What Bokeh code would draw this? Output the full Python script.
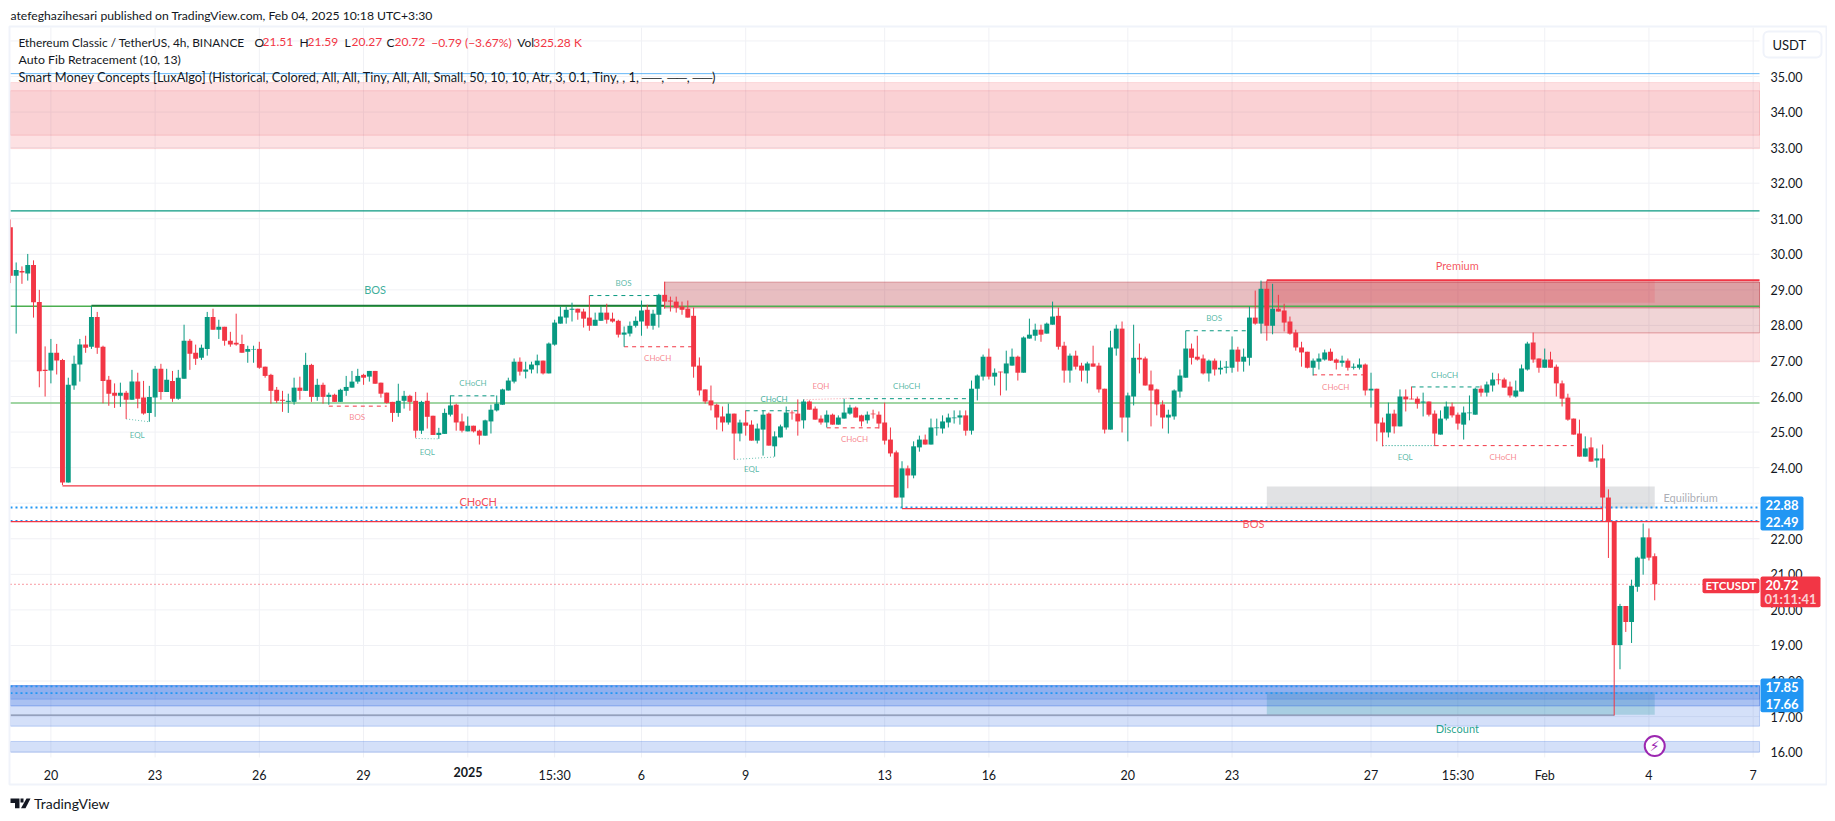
from bokeh.plotting import figure
from bokeh.models import Range1d, FixedTicker, Label, BoxAnnotation, PolyAnnotation, ColumnDataSource
from bokeh.core.properties import value
from bokeh.embed import file_html
from bokeh.resources import INLINE

FONT = "Lato"
UP = "#089981"
DOWN = "#f23645"
INK = "#131722"
BLUE = "#2962e0"

opens = [30.76,29.40,29.53,29.46,29.70,28.66,26.75,26.73,27.23,27.03,
 23.58,26.31,26.90,27.46,27.40,28.24,27.40,26.47,26.11,26.02,
 26.11,25.91,26.42,25.97,25.54,25.97,26.78,26.13,26.44,25.94,
 26.50,27.57,27.23,27.09,27.34,28.24,27.88,27.96,27.57,27.51,
 27.48,27.26,27.32,27.34,26.84,26.61,26.19,25.91,25.85,25.85,
 26.25,26.16,26.89,25.99,26.33,25.99,26.05,25.85,26.16,26.25,
 26.42,26.61,26.56,26.72,26.39,26.11,25.85,25.54,25.88,26.02,
 25.88,25.04,25.88,25.46,24.92,24.95,25.49,25.77,25.30,25.02,
 25.18,25.04,24.90,25.30,25.61,25.77,26.17,26.42,26.98,26.70,
 26.76,26.88,27.01,26.65,27.46,28.05,28.22,28.44,28.47,28.39,
 28.22,27.99,28.13,28.36,28.19,28.13,27.74,27.77,27.99,28.11,
 28.44,27.99,28.30,28.86,28.70,28.67,28.53,28.47,28.27,26.87,
 26.20,25.89,25.77,25.44,25.27,25.52,24.96,25.27,25.21,24.76,
 25.07,25.52,24.60,24.85,25.13,25.55,25.52,25.33,25.86,25.66,
 25.38,25.27,25.49,25.21,25.38,25.52,25.69,25.47,25.33,25.52,
 25.49,25.27,24.79,24.43,23.16,23.98,23.78,24.57,24.79,24.65,
 25.11,25.10,25.27,25.39,25.41,25.47,25.04,26.22,26.56,27.12,
 26.56,26.70,26.65,26.87,27.12,26.67,27.63,27.71,27.88,27.77,
 28.02,28.27,27.43,26.73,27.15,26.87,26.73,26.93,26.87,26.22,
 25.07,27.35,27.91,25.41,26.00,27.09,27.07,26.34,26.20,25.78,
 25.41,25.44,26.14,26.53,27.35,27.12,27.07,26.65,27.01,26.76,
 26.81,26.81,27.32,26.98,27.09,28.22,28.05,29.03,27.99,28.47,
 28.42,28.11,27.80,27.38,27.26,26.81,26.98,27.04,27.26,27.04,
 26.95,27.01,26.81,26.81,26.90,26.17,26.22,25.27,24.99,25.52,
 25.16,26.00,25.94,25.94,25.83,25.86,25.52,24.93,25.38,25.72,
 25.49,25.21,25.53,25.49,26.22,26.11,26.31,26.48,26.48,26.28,
 26.00,26.14,26.76,27.52,27.07,26.81,27.04,26.84,26.37,25.97,
 25.38,24.96,24.31,24.57,24.20,24.26,23.16,22.49,19.01,20.11,
 19.66,20.65,21.44,22.04,21.51]
highs = [30.98,29.77,29.66,30.01,29.83,29.00,27.41,27.62,27.48,27.06,
 26.53,27.15,27.62,27.71,28.55,28.38,27.43,26.58,26.37,26.39,
 26.16,26.75,26.67,26.44,26.30,26.86,26.92,26.78,26.72,26.75,
 28.02,27.62,27.46,27.46,28.38,28.47,28.16,27.96,27.82,28.33,
 27.74,27.43,27.43,27.54,26.84,26.64,26.27,26.16,26.08,26.53,
 26.56,27.23,26.92,26.50,26.39,26.11,26.08,26.22,26.58,26.72,
 26.78,26.64,26.72,26.72,26.39,26.11,25.85,26.36,26.16,26.05,
 26.13,25.88,26.11,25.46,25.12,25.66,26.03,25.80,25.52,25.44,
 25.18,25.07,25.35,25.77,26.03,26.22,26.53,27.07,27.10,26.98,
 26.98,27.18,27.01,27.52,28.16,28.53,28.53,28.64,28.47,28.47,
 28.84,28.36,28.53,28.61,28.36,28.16,27.97,28.11,28.25,28.70,
 28.58,28.44,28.89,29.23,28.81,28.81,28.67,28.70,28.50,27.10,
 26.20,26.31,25.80,25.72,25.80,25.52,25.35,25.61,25.33,25.24,
 25.61,25.55,25.02,25.21,25.72,25.61,25.92,25.92,25.89,25.72,
 25.47,25.61,25.52,25.47,25.94,25.77,25.72,25.49,25.58,25.63,
 25.58,25.83,25.13,24.48,24.18,24.06,24.74,24.90,24.93,25.38,
 25.38,25.47,25.52,25.61,25.61,25.61,26.45,26.62,27.18,27.35,
 26.79,26.70,27.29,27.35,27.15,27.69,28.19,28.05,28.02,28.08,
 28.67,28.50,27.54,27.21,27.29,26.95,26.98,27.43,26.95,26.22,
 27.85,28.02,28.11,26.11,28.02,27.49,27.12,26.73,26.22,25.89,
 25.63,26.20,26.76,27.85,27.49,27.71,27.18,27.04,27.07,27.01,
 27.00,27.69,27.40,27.35,28.53,28.98,29.26,29.26,29.17,28.86,
 28.61,28.25,27.88,27.54,27.26,27.07,27.21,27.32,27.35,27.07,
 27.15,27.07,26.93,27.07,26.93,26.67,26.22,25.41,25.83,25.63,
 26.20,26.20,26.28,26.00,26.11,25.86,25.61,25.61,25.86,25.83,
 25.55,25.72,26.03,26.25,26.31,26.42,26.67,26.65,26.53,26.42,
 26.45,26.90,27.54,27.80,27.07,27.35,27.26,26.90,26.45,26.08,
 25.38,25.35,24.88,24.85,24.54,24.65,23.39,22.49,20.17,20.11,
 20.85,21.50,22.43,22.29,21.59]
lows = [29.19,27.77,29.17,29.26,28.22,26.26,26.00,26.37,26.62,23.51,
 23.58,26.19,26.42,27.23,27.34,27.20,25.81,25.74,25.68,25.71,
 25.37,25.91,25.67,25.49,25.29,25.43,25.91,26.13,25.85,25.91,
 26.50,26.75,26.89,27.03,27.15,27.88,27.62,27.43,27.40,27.43,
 27.23,26.95,26.95,26.78,26.53,25.80,25.82,25.57,25.54,25.77,
 25.91,26.16,25.85,25.88,25.80,25.77,25.85,25.85,26.02,26.25,
 26.36,26.33,26.42,26.36,25.97,25.80,25.29,25.43,25.66,25.60,
 24.84,24.95,25.10,24.92,24.81,24.95,25.44,25.04,24.99,25.02,
 24.99,24.65,24.90,24.96,25.58,25.77,26.17,26.37,26.59,26.51,
 26.65,26.65,26.62,26.65,27.43,28.05,28.05,28.11,28.16,27.94,
 27.85,27.99,28.13,28.05,28.08,27.66,27.40,27.69,27.94,27.71,
 27.91,27.88,27.94,28.47,28.39,28.36,28.30,28.22,26.53,26.03,
 25.80,25.61,25.07,25.02,25.21,24.23,24.74,24.90,24.76,24.68,
 24.34,24.62,24.31,24.85,25.07,25.35,24.90,25.10,25.63,25.35,
 25.21,25.13,25.21,25.21,25.38,25.49,25.41,25.16,25.24,25.38,
 25.10,24.65,24.31,23.16,22.87,23.42,23.70,24.45,24.65,24.65,
 24.90,24.96,25.13,25.24,25.21,24.90,24.93,25.89,26.45,26.48,
 26.31,26.03,26.17,26.87,26.45,26.67,27.63,27.57,27.54,27.77,
 28.02,27.32,26.39,26.39,26.76,26.42,26.37,26.84,26.11,24.96,
 25.07,27.15,24.99,24.74,25.75,26.65,26.31,25.16,25.47,25.10,
 24.96,25.35,25.97,26.53,26.90,27.01,26.62,26.42,26.59,26.62,
 26.65,26.67,26.70,26.70,26.87,28.02,27.77,27.57,27.75,28.39,
 27.83,27.74,27.29,26.84,26.79,26.59,26.76,27.01,27.00,26.76,
 26.84,26.73,26.76,26.76,26.03,25.69,24.74,24.60,24.85,24.96,
 25.16,25.58,25.92,25.66,25.44,25.44,24.62,24.93,25.33,25.41,
 25.07,24.79,25.33,25.49,26.00,26.00,26.14,26.34,26.25,25.97,
 25.97,26.14,26.73,26.95,26.67,26.81,26.81,26.00,25.72,25.32,
 24.93,24.31,24.31,24.17,24.00,22.49,21.46,17.03,18.33,19.38,
 19.07,20.51,20.99,21.39,20.27]
closes = [29.40,29.56,29.49,29.70,28.65,26.71,26.72,27.23,27.01,23.58,
 26.33,26.92,27.46,27.37,28.24,27.37,26.44,26.08,26.02,26.11,
 25.91,26.42,25.94,25.52,25.99,26.78,26.13,26.47,25.94,26.53,
 27.57,27.20,27.06,27.37,28.24,27.88,27.96,27.57,27.46,27.46,
 27.23,27.34,27.34,26.81,26.58,26.16,25.88,25.88,25.88,26.25,
 26.16,26.89,25.99,26.33,25.99,26.05,25.85,26.19,26.27,26.42,
 26.58,26.53,26.72,26.36,26.08,25.82,25.54,25.88,26.02,25.85,
 25.04,25.85,25.43,24.92,24.98,25.54,25.75,25.27,25.04,25.18,
 25.02,24.90,25.33,25.63,25.80,26.20,26.45,26.98,26.70,26.76,
 26.90,27.01,26.65,27.49,28.08,28.25,28.44,28.47,28.36,28.19,
 27.99,28.16,28.36,28.16,28.11,27.74,27.80,27.99,28.13,28.42,
 27.99,28.33,28.86,28.67,28.67,28.50,28.44,28.22,26.84,26.17,
 25.86,25.75,25.41,25.27,25.52,24.96,25.27,25.18,24.76,25.10,
 25.49,24.62,24.88,25.16,25.55,25.53,25.30,25.86,25.63,25.35,
 25.27,25.49,25.21,25.41,25.55,25.69,25.41,25.30,25.49,25.50,
 25.24,24.76,24.40,23.16,23.98,23.78,24.60,24.79,24.65,25.13,
 25.13,25.30,25.41,25.41,25.47,25.04,26.22,26.59,27.12,26.56,
 26.67,26.68,26.93,27.12,26.67,27.66,27.74,27.88,27.74,28.05,
 28.25,27.40,26.73,27.15,26.84,26.73,26.93,26.84,26.20,25.07,
 27.38,27.91,25.41,26.03,27.09,27.04,26.31,26.17,25.78,25.41,
 25.49,26.17,26.59,27.35,27.09,27.04,26.65,27.01,26.76,26.81,
 26.84,27.32,26.98,27.12,28.22,28.05,29.03,27.99,28.47,28.39,
 28.08,27.77,27.38,27.24,26.81,27.01,27.07,27.24,27.01,26.95,
 27.01,26.81,26.84,26.90,26.17,26.22,25.24,24.99,25.52,25.16,
 26.00,25.92,25.92,25.80,25.86,25.49,24.96,25.38,25.72,25.47,
 25.24,25.55,25.55,26.22,26.11,26.34,26.48,26.46,26.25,26.03,
 26.17,26.79,27.49,27.04,26.81,27.04,26.81,26.37,25.94,25.35,
 24.93,24.31,24.54,24.17,24.26,23.16,22.49,19.01,20.11,19.66,
 20.68,21.47,22.04,21.47,20.72]

price_ticks = list(range(16, 36))
grid_prices = list(range(16, 37))
time_ticks = [7, 25, 43, 61, 79, 94, 109, 127, 151, 169, 193, 211, 235, 250, 265, 283, 301]
time_labels = ["20", "23", "26", "29", " ", "15:30", "6", "9", "13", "16", "20", "23", "27", "15:30", "Feb", "4", "7"]

# zones: left candle, right candle, top price, bottom price, colour, alpha, border alpha
LEFT, RIGHT = 0.02, 302.1
zones = [
 (LEFT, RIGHT, 34.83, 32.97, "#f23645", 0.15, 0.12),
 (LEFT, RIGHT, 34.60, 33.35, "#e0323f", 0.09, 0.15),
 (113, RIGHT, 29.22, 28.49, "#b22833", 0.30, 0.35),
 (216, RIGHT, 29.22, 27.79, "#b22833", 0.20, 0.30),
 (217, 284, 29.26, 28.64, "#f23645", 0.15, 0.0),
 (263, RIGHT, 27.79, 26.97, "#f23645", 0.15, 0.10),
 (217, 284, 23.47, 22.86, "#787b86", 0.22, 0.0),
 (217, 284, 17.69, 17.05, "#089981", 0.22, 0.0),
 (LEFT, RIGHT, 17.87, 16.73, BLUE, 0.20, 0.25),
 (LEFT, RIGHT, 17.87, 17.30, BLUE, 0.25, 0.35),
 (LEFT, RIGHT, 17.87, 17.49, BLUE, 0.18, 0.20),
 (LEFT, RIGHT, 16.30, 16.00, BLUE, 0.20, 0.25),
]

# full levels: left, right, price, colour, width, dash, alpha
levels = [
 (LEFT, RIGHT, 35.08, "#2196f3", 1, "solid", 0.7),
 (LEFT, RIGHT, 31.22, UP, 1.3, "solid", 1),
 (LEFT, RIGHT, 28.54, "#4caf50", 1.5, "solid", 1),
 (LEFT, RIGHT, 25.82, "#81c784", 1.5, "solid", 1),
 (14, 113, 28.56, "#1b7a3c", 1.5, "solid", 1),
 (9, 153, 23.49, DOWN, 1.2, "solid", 1),
 (LEFT, RIGHT, 22.88, "#2196f3", 2, "2 3", 1),
 (154, 275, 22.85, DOWN, 1.2, "solid", 1),
 (LEFT, RIGHT, 22.51, "#2196f3", 1.5, "2 3", 1),
 (LEFT, RIGHT, 22.48, DOWN, 1.2, "solid", 1),
 (LEFT, RIGHT, 17.85, "#2196f3", 1.8, "2 3", 1),
 (LEFT, RIGHT, 17.66, "#2196f3", 1.8, "2 3", 1),
 (LEFT, 277, 17.04, "#7f8ba8", 1.2, "solid", 1),
 (LEFT, 293, 20.72, DOWN, 1, "1 3", 1),
 (217, RIGHT, 29.27, DOWN, 1.8, "solid", 1),
]

# structure breaks: k0, k1, p0, p1, colour, dash, alpha
breaks = [
 (100, 112, 28.84, 28.84, UP, "4 4", 1), (106, 118, 27.40, 27.40, DOWN, "4 4", 1),
 (76, 84, 26.02, 26.02, UP, "4 4", 1), (55, 65, 25.73, 25.73, DOWN, "4 4", 1),
 (127, 137, 25.60, 25.60, UP, "4 4", 1), (145, 166, 25.94, 25.94, UP, "4 4", 1),
 (141, 151, 25.12, 25.12, DOWN, "4 4", 1), (203, 214, 27.85, 27.85, UP, "4 4", 1),
 (225, 234, 26.61, 26.61, DOWN, "4 4", 1), (242, 254, 26.27, 26.27, UP, "4 4", 1),
 (246, 270, 24.62, 24.62, DOWN, "4 4", 1),
 (20, 24, 25.37, 25.29, UP, "1 2", 0.6), (70, 74, 24.82, 24.81, UP, "1 2", 0.6),
 (125, 132, 24.23, 24.30, UP, "1 2", 0.6), (137, 145, 25.91, 25.95, DOWN, "1 2", 0.5),
 (237, 246, 24.62, 24.62, UP, "1 2", 1),
]

# texts on the chart: k, price, text, colour, size, alpha
marks = [
 (63, 29.00, "BOS", UP, "11px", 0.8), (80.8, 23.06, "CHoCH", DOWN, "11px", 0.9),
 (105.9, 29.19, "BOS", UP, "8px", 0.7), (111.8, 27.09, "CHoCH", DOWN, "8px", 0.6),
 (79.9, 26.39, "CHoCH", UP, "8px", 0.7), (21.9, 24.91, "EQL", UP, "8px", 0.7),
 (59.9, 25.43, "BOS", DOWN, "8px", 0.6), (72, 24.43, "EQL", UP, "8px", 0.7),
 (131.9, 25.94, "CHoCH", UP, "8px", 0.8), (128, 23.97, "EQL", UP, "8px", 0.7),
 (140, 26.29, "EQH", DOWN, "8px", 0.6), (154.8, 26.29, "CHoCH", UP, "8px", 0.7),
 (145.8, 24.81, "CHoCH", DOWN, "8px", 0.6), (207.9, 28.21, "BOS", UP, "8px", 0.7),
 (228.9, 26.26, "CHoCH", DOWN, "8px", 0.6), (247.7, 26.61, "CHoCH", UP, "8px", 0.7),
 (240.9, 24.29, "EQL", UP, "8px", 0.7), (257.8, 24.29, "CHoCH", DOWN, "8px", 0.6),
 (214.7, 22.44, "BOS", DOWN, "11px", 0.8), (249.9, 29.69, "Premium", DOWN, "11px", 0.85),
 (290.2, 23.17, "Equilibrium", "#9598a1", "11px", 0.8), (249.9, 16.66, "Discount", UP, "11px", 0.9),
]


def X(px):
    return 7 + (px - 50.4) / 5.79


def Y(py):
    return 35 - (py - 76) / 35.56


CANVAS_W, CANVAS_H = 1827, 813
p = figure(width=CANVAS_W, height=CANVAS_H, output_backend="svg", toolbar_location=None,
           x_range=Range1d(X(0), X(CANVAS_W)), y_range=Range1d(Y(CANVAS_H), Y(0)),
           y_axis_location="right", min_border=0, tools="", outline_line_color=None)

p.xgrid.visible = False
p.ygrid.visible = False
GRID = "#f0f1f5"
for t in time_ticks:
    p.segment(x0=[t], x1=[t], y0=[Y(757)], y1=[Y(27)], line_color=GRID, line_width=1, level="underlay")
for g in grid_prices:
    p.segment(x0=[LEFT], x1=[RIGHT], y0=[g], y1=[g], line_color=GRID, line_width=1, level="underlay")

p.xaxis.ticker = FixedTicker(ticks=time_ticks)
p.xaxis.major_label_overrides = {k: v for k, v in zip(time_ticks, time_labels)}
p.yaxis.ticker = FixedTicker(ticks=price_ticks)
p.yaxis.major_label_overrides = {t: f"{t:.2f}" for t in price_ticks}
p.xaxis.fixed_location = Y(757)
p.yaxis.fixed_location = X(1759)
for ax in (p.xaxis[0], p.yaxis[0]):
    ax.axis_line_color = None
    ax.major_tick_line_color = None
    ax.minor_tick_line_color = None
    ax.major_label_text_font = FONT
    ax.major_label_text_font_size = "12.5px"
    ax.major_label_text_color = INK
p.xaxis.major_label_standoff = 4
p.yaxis.major_label_standoff = 5

for l, r, t, b, c, a, la in zones:
    p.quad(left=[l], right=[r], top=[t], bottom=[b], fill_color=c, fill_alpha=a,
           line_color=c, line_alpha=la, line_width=1)

for l, r, y, c, w, d, a in levels:
    p.segment(x0=[l], x1=[r], y0=[y], y1=[y], line_color=c, line_width=w, line_dash=d, line_alpha=a)

for k0, k1, p0, p1, c, d, a in breaks:
    p.segment(x0=[k0], x1=[k1], y0=[p0], y1=[p1], line_color=c, line_width=1, line_dash=d, line_alpha=a)

idx = list(range(len(opens)))
colors = [UP if c >= o else DOWN for o, c in zip(opens, closes)]
src = ColumnDataSource(dict(k=idx, o=opens, h=highs, l=lows, c=closes, col=colors,
                            top=[max(o, c) for o, c in zip(opens, closes)],
                            bot=[min(o, c) for o, c in zip(opens, closes)]))
p.segment(x0="k", x1="k", y0="l", y1="h", line_color="col", line_width=1, source=src)
p.vbar(x="k", width=0.85, top="top", bottom="bot", fill_color="col", line_color=None, source=src)

for k, y, t, c, s, a in marks:
    p.text(x=[k], y=[y], text=[t], text_color=c, text_alpha=a, text_font=value(FONT),
           text_font_size=s, text_align="center", text_baseline="middle")

# lightning marker
p.scatter(x=[284], y=[16.17], size=20, marker="circle", fill_color="white", line_color="#9c27b0", line_width=2)
p.text(x=[284], y=[16.17], text=["⚡"], text_color="#9c27b0", text_font=value("DejaVu Sans"),
       text_font_size="14px", text_align="center", text_baseline="middle")


def label(px, py, text, color=INK, size="13px", align="left", weight="normal"):
    p.add_layout(Label(x=X(px), y=Y(py), text=text, text_color=color, text_font=FONT,
                       text_font_size=size, text_align=align, text_baseline="middle",
                       text_font_style=weight, level="overlay"))


def box(x0, x1, y0, y1, fill=None, line=None, lw=1, radius=0):
    p.add_layout(BoxAnnotation(left=X(x0), right=X(x1), top=Y(y0), bottom=Y(y1),
                               fill_color=fill if fill else "white", fill_alpha=1 if fill else 0,
                               line_color=line if line else "white", line_alpha=1 if line else 0,
                               line_width=lw, border_radius=radius, level="annotation"))


# clip the first candle at the pane edge, then the outer frame of the pane and its axes
box(0, 9.5, 27, 757, "white")
box(9, 1826, 26, 784, None, "#f0f3fa", 2)

# price tags
box(1760, 1803, 496, 530, "#2196f3", radius=2)
label(1781.5, 504, "22.88", "white", "13px", "center", "bold")
label(1781.5, 521.7, "22.49", "white", "13px", "center", "bold")
box(1760, 1803, 678, 711.7, "#2196f3", radius=2)
label(1781.5, 686.7, "17.85", "white", "13px", "center", "bold")
label(1781.5, 703.7, "17.66", "white", "13px", "center", "bold")
box(1760, 1820, 576, 606.7, DOWN, radius=2)
label(1781.5, 584.3, "20.72", "white", "13px", "center", "bold")
label(1790, 598.3, "01:11:41", "#fbd0d4", "13px", "center", "bold")
box(1702, 1759, 578, 592.7, DOWN, radius=2)
label(1730.5, 585, "ETCUSDT", "white", "11.5px", "center", "bold")

# USDT button
box(1763, 1821, 31, 57, "white", "#f0f3fa", 2, 5)
label(1772, 44.7, "USDT", INK, "13px")

# header and legend
label(10, 15, "atefeghazihesari published on TradingView.com, Feb 04, 2025 10:18 UTC+3:30", size="12.2px")
label(18, 41.7, "Ethereum Classic / TetherUS, 4h, BINANCE", size="11.9px")
for px, t, c in [(254, "O", INK), (262, "21.51", DOWN), (299, "H", INK), (307, "21.59", DOWN),
                 (344, "L", INK), (351, "20.27", DOWN), (386, "C", INK), (394, "20.72", DOWN),
                 (430.7, "−0.79 (−3.67%)", DOWN), (516.7, "Vol", INK), (532.7, "325.28 K", DOWN)]:
    label(px, 41.7, t, c, size="12px")
label(18, 58.7, "Auto Fib Retracement (10, 13)", size="12.3px")
label(18, 76, "Smart Money Concepts [LuxAlgo] (Historical, Colored, All, All, Tiny, All, All, Small, 50, 10, 10, Atr, 3, 0.1, Tiny, , 1, ──, ──, ──)", size="12.8px")

# bold year on the time axis
label(467.4, 771.5, "2025", INK, "12.5px", "center", "bold")

# TradingView mark
for pts in ([(10, 798), (19, 798), (19, 807.7), (14.5, 807.7), (14.5, 802.5), (10, 802.5)],
            [(26, 798), (30, 798), (25, 807.7), (20.5, 807.7)],
            [(20, 798), (23, 798), (23, 802), (20, 802)]):
    p.add_layout(PolyAnnotation(xs=[X(a) for a, _ in pts], ys=[Y(b) for _, b in pts],
                                fill_color=INK, fill_alpha=1, line_color=None, level="annotation"))
label(33.5, 803, "TradingView", INK, "14px")

html = file_html(p, INLINE)
open("out.html", "w").write(html)
